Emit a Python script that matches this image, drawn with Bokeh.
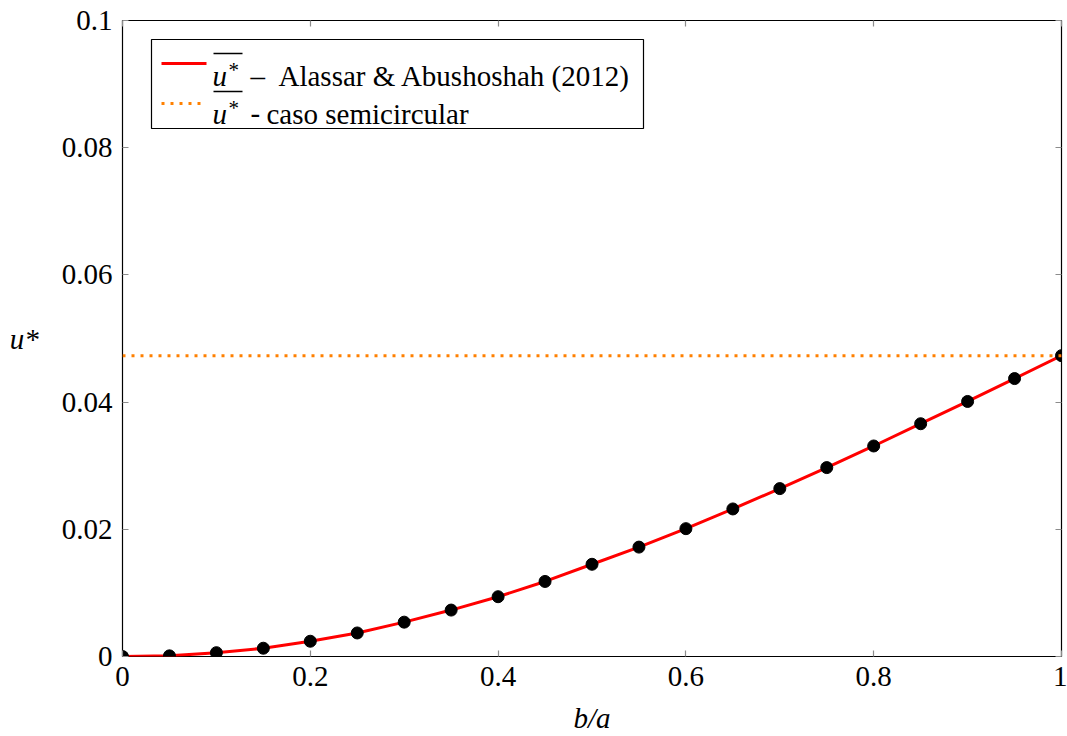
from bokeh.plotting import figure
from bokeh.models import (Label, Span, BoxAnnotation, FixedTicker, LinearAxis,
                          Range1d, ColumnDataSource)
from bokeh.embed import file_html
from bokeh.resources import INLINE

# aspect ratio b/a and the mean velocity u* from Alassar & Abushoshah (2012)
ba = [0.00, 0.05, 0.10, 0.15, 0.20, 0.25, 0.30, 0.35, 0.40, 0.45, 0.50,
      0.55, 0.60, 0.65, 0.70, 0.75, 0.80, 0.85, 0.90, 0.95, 1.00]
u_star = [0.0000, 0.0001, 0.0006, 0.0013, 0.0024, 0.0037, 0.0054, 0.0073,
          0.0094, 0.0118, 0.0145, 0.0172, 0.0201, 0.0232, 0.0264, 0.0297,
          0.0331, 0.0366, 0.0401, 0.0437, 0.0473]
# mean velocity of the semicircular case
u_semicircular = 0.0473

x_ticks = [0, 0.2, 0.4, 0.6, 0.8, 1.0]
x_tick_labels = ["0", "0.2", "0.4", "0.6", "0.8", "1"]
y_ticks = [0, 0.02, 0.04, 0.06, 0.08, 0.1]
y_tick_labels = ["0", "0.02", "0.04", "0.06", "0.08", "0.1"]

SERIF = "Liberation Serif"
FS = "29px"
RED = "#ff0000"
ORANGE = "#ff8000"
TICK_GREY = "#8c8c8c"

XMIN, XMAX, YMIN, YMAX = 0.0, 1.0, 0.0, 0.1
W, H = 1067, 736
LEFT, RIGHT, TOP, BOTTOM = 122, 6, 20, 80
FW, FH = W - LEFT - RIGHT, H - TOP - BOTTOM

p = figure(width=W, height=H, output_backend="svg", toolbar_location=None,
           x_range=Range1d(XMIN, XMAX), y_range=Range1d(YMIN, YMAX),
           min_border_left=LEFT, min_border_right=RIGHT,
           min_border_top=TOP, min_border_bottom=BOTTOM,
           x_axis_label="b/a", y_axis_label="u*")
p.background_fill_color = "white"
p.border_fill_color = "white"
p.outline_line_color = "black"
p.outline_line_width = 1.2
p.grid.visible = False


# helpers to place the hand-made legend in frame pixel offsets
def fx(px):
    return XMIN + (px - LEFT) / FW * (XMAX - XMIN)


def fy(py):
    return YMIN + (TOP + FH - py) / FH * (YMAX - YMIN)


def style_axis(ax, ticks, labels, show_labels):
    ax.ticker = FixedTicker(ticks=ticks)
    ax.major_label_overrides = {t: l for t, l in zip(ticks, labels)}
    ax.axis_line_color = None
    ax.major_tick_in = 6
    ax.major_tick_out = 0
    ax.major_tick_line_color = TICK_GREY
    ax.major_tick_line_width = 1.2
    ax.minor_tick_line_color = None
    ax.major_label_text_font = SERIF
    ax.major_label_text_font_size = FS if show_labels else "0px"
    ax.major_label_text_color = "black" if show_labels else None
    ax.major_label_standoff = 10 if show_labels else 0
    ax.axis_label_text_font = SERIF
    ax.axis_label_text_font_style = "italic"
    ax.axis_label_text_font_size = FS
    ax.axis_label_text_color = "black"


style_axis(p.xaxis[0], x_ticks, x_tick_labels, True)
style_axis(p.yaxis[0], y_ticks, y_tick_labels, True)
p.xaxis[0].axis_label_standoff = 13
p.yaxis[0].axis_label_orientation = "horizontal"
p.yaxis[0].axis_label_standoff = 20

top_axis = LinearAxis()
right_axis = LinearAxis()
style_axis(top_axis, x_ticks, x_tick_labels, False)
style_axis(right_axis, y_ticks, y_tick_labels, False)
p.add_layout(top_axis, "above")
p.add_layout(right_axis, "right")

# semicircular reference level
p.add_layout(Span(location=u_semicircular, dimension="width",
                  line_color=ORANGE, line_width=3, line_dash="3 6"))

src = ColumnDataSource(dict(x=ba, y=u_star))
p.line("x", "y", source=src, line_color=RED, line_width=3)
p.scatter("x", "y", source=src, size=12, fill_color="black",
          line_color="black")

# legend
p.add_layout(BoxAnnotation(left=fx(151), right=fx(643), top=fy(39),
                           bottom=fy(128), fill_color="white", fill_alpha=1,
                           line_color="black", line_alpha=1, line_width=1.2,
                           level="underlay"))
p.segment(x0=[fx(161)], y0=[fy(63)], x1=[fx(206)], y1=[fy(63)],
          line_color=RED, line_width=3)
p.segment(x0=[fx(161)], y0=[fy(103)], x1=[fx(206)], y1=[fy(103)],
          line_color=ORANGE, line_width=3, line_dash="3 6")
legend_rows = [(75, "–", 250, "Alassar & Abushoshah (2012)", 278),
               (113, "-", 250, "caso semicircular", 266)]
for base, sep, sep_x, txt, txt_x in legend_rows:
    p.add_layout(Label(x=fx(212), y=fy(base), text="u", text_font=SERIF,
                       text_font_style="italic", text_font_size=FS,
                       text_color="black",
                       text_baseline="alphabetic", text_align="left"))
    p.add_layout(Label(x=fx(228), y=fy(base - 6), text="*", text_font=SERIF,
                       text_font_size="21px", text_color="black",
                       text_baseline="alphabetic", text_align="left"))
    p.segment(x0=[fx(213)], y0=[fy(base - 22)], x1=[fx(242)],
              y1=[fy(base - 22)], line_color="black", line_width=1.3)
    p.add_layout(Label(x=fx(sep_x), y=fy(base), text=sep, text_font=SERIF,
                       text_font_size="29px", text_color="black",
                       text_baseline="alphabetic", text_align="left"))
    p.add_layout(Label(x=fx(txt_x), y=fy(base), text=txt, text_font=SERIF,
                       text_font_size="29px", text_color="black",
                       text_baseline="alphabetic", text_align="left"))

open("out.html", "w").write(file_html(p, INLINE))
